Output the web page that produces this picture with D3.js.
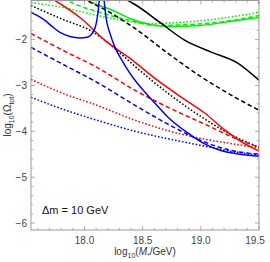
<!DOCTYPE html>
<html><head><meta charset="utf-8">
<script src="https://cdn.jsdelivr.net/npm/d3@7/dist/d3.min.js"></script>
<style>body{margin:0;background:#fff}svg{display:block;font-family:"Liberation Sans",Arial,sans-serif}</style>
</head><body>
<script>
// ---- data (x = log10(M*/GeV), y = log10(Omega_tot)) ----
const blackSolid  = [[18.33,-1.08],[18.374,-1.15],[18.434,-1.237],[18.649,-1.628],[18.864,-2.02],[19.096,-2.28],[19.320,-2.52],[19.5,-2.889]];
const blackDashed = [[17.98,-1.09],[18.022,-1.15],[18.219,-1.411],[18.434,-1.759],[18.718,-2.302],[19.010,-2.824],[19.294,-3.259],[19.5,-3.541]];
const blackDotted = [[17.54,-1.259],[17.815,-1.563],[18.064,-1.824],[18.176,-2.02],[18.279,-2.237],[18.434,-2.585],[18.718,-3.172],[19.010,-3.693],[19.268,-4.085],[19.5,-4.346]];
const redSolid    = [[17.70,-1.08],[17.746,-1.15],[17.961,-1.52],[18.176,-2.02],[18.391,-2.411],[18.606,-2.846],[18.821,-3.237],[19.036,-3.607],[19.208,-3.976],[19.354,-4.237],[19.5,-4.433]];
const redDashed   = [[17.54,-1.867],[17.815,-2.237],[18.107,-2.607],[18.434,-3.107],[18.735,-3.498],[19.036,-3.846],[19.294,-4.15],[19.5,-4.346]];
const redDotted   = [[17.54,-2.867],[17.815,-3.172],[18.107,-3.433],[18.434,-3.759],[18.735,-3.998],[19.036,-4.172],[19.294,-4.28],[19.5,-4.367]];
const blueLeft    = [[17.54,-1.411],[17.592,-1.476],[17.66,-1.585],[17.721,-1.715],[17.789,-1.846],[17.875,-1.933],[17.961,-1.965],[18.03,-1.943],[18.073,-1.846],[18.099,-1.672],[18.116,-1.411],[18.125,-1.193],[18.129,-1.085]];
const blueRight   = [[18.163,-1.085],[18.168,-1.15],[18.176,-1.324],[18.185,-1.52],[18.219,-1.867],[18.262,-2.172],[18.322,-2.454],[18.391,-2.737],[18.434,-2.889],[18.52,-3.15],[18.606,-3.389],[18.718,-3.693],[18.89,-4.041],[19.036,-4.28],[19.165,-4.411],[19.337,-4.498],[19.5,-4.541]];
const blueDashed  = [[17.54,-2.172],[17.815,-2.541],[18.107,-2.933],[18.434,-3.433],[18.735,-3.867],[18.993,-4.193],[19.251,-4.411],[19.5,-4.498]];
const blueDotted  = [[17.54,-3.259],[17.815,-3.52],[18.107,-3.759],[18.434,-3.998],[18.735,-4.172],[18.993,-4.302],[19.251,-4.433],[19.5,-4.52]];
const greenDotted = [[17.54,-1.193],[17.815,-1.302],[18.107,-1.476],[18.391,-1.607],[18.563,-1.65],[18.821,-1.628],[19.165,-1.541],[19.5,-1.411]];
const greenDashed = [[17.82,-1.09],[17.858,-1.15],[18.107,-1.389],[18.391,-1.585],[18.606,-1.693],[18.907,-1.672],[19.208,-1.607],[19.5,-1.476]];
const greenSolid  = [[17.99,-1.09],[18.03,-1.15],[18.245,-1.367],[18.391,-1.541],[18.563,-1.672],[18.735,-1.715],[18.993,-1.693],[19.251,-1.607],[19.5,-1.52]];

const xMajor = [18.0, 18.5, 19.0, 19.5];
const xMajorLabels = ["18.0", "18.5", "19.0", "19.5"];
const yMajor = [-2, -3, -4, -5, -6];
const yMajorLabels = ["\u22122", "\u22123", "\u22124", "\u22125", "\u22126"];
const annotation = "\u0394m = 10 GeV";

const series = [
  {d: greenDotted, c: "#00ee00", s: "dot"},
  {d: greenDashed, c: "#00ee00", s: "dash"},
  {d: greenSolid,  c: "#00ee00", s: "solid"},
  {d: blackSolid,  c: "#000", s: "solid"},
  {d: blackDashed, c: "#000", s: "dash"},
  {d: blackDotted, c: "#000", s: "dot"},
  {d: redDotted,   c: "#ff0000", s: "dot"},
  {d: redDashed,   c: "#ff0000", s: "dash"},
  {d: redSolid,    c: "#ff0000", s: "solid"},
  {d: blueDotted,  c: "#0000ff", s: "dot"},
  {d: blueDashed,  c: "#0000ff", s: "dash"},
  {d: blueLeft,    c: "#0000ff", s: "solid"},
  {d: blueRight,   c: "#0000ff", s: "solid"}
];

// ---- layout ----
const W = 270, H = 262;
const L = 31, R = 259, T = 0.5, B = 230;
const x = d3.scaleLinear().domain([17.54, 19.5]).range([L, R]);
const y = d3.scaleLinear().domain([-6.15, -1.15]).range([B, T]);

const svg = d3.select("body").append("svg").attr("width", W).attr("height", H);
svg.append("defs").append("clipPath").attr("id", "clip")
  .append("rect").attr("x", L).attr("y", T).attr("width", R - L).attr("height", B - T);

const line = d3.line().x(d => x(d[0])).y(d => y(d[1])).curve(d3.curveMonotoneX);
const dash = {solid: null, dash: "4.5,2.8", dot: "1.6,1.9"};
const g = svg.append("g").attr("clip-path", "url(#clip)");
series.forEach(s => {
  g.append("path").attr("d", line(s.d)).attr("fill", "none")
    .attr("stroke", s.c).attr("stroke-width", 1.5)
    .attr("stroke-dasharray", dash[s.s]);
});

// frame
svg.append("rect").attr("x", L).attr("y", T).attr("width", R - L).attr("height", B - T)
  .attr("fill", "none").attr("stroke", "#999").attr("stroke-width", 1);

// ticks
const xMinor = d3.range(17.6, 19.45, 0.1).map(v => +v.toFixed(1)).filter(v => !xMajor.some(m => Math.abs(m - v) < 1e-6));
const yMinor = d3.range(-6.0, -1.15, 0.2).map(v => +v.toFixed(1)).filter(v => !yMajor.some(m => Math.abs(m - v) < 1e-6));
const tk = svg.append("g").attr("stroke", "#999").attr("stroke-width", 0.8);
xMajor.forEach(v => { tk.append("line").attr("x1", x(v)).attr("x2", x(v)).attr("y1", B).attr("y2", B - 4);
                      tk.append("line").attr("x1", x(v)).attr("x2", x(v)).attr("y1", T).attr("y2", T + 4); });
xMinor.forEach(v => { tk.append("line").attr("x1", x(v)).attr("x2", x(v)).attr("y1", B).attr("y2", B - 2.2);
                      tk.append("line").attr("x1", x(v)).attr("x2", x(v)).attr("y1", T).attr("y2", T + 2.2); });
yMajor.forEach(v => { tk.append("line").attr("y1", y(v)).attr("y2", y(v)).attr("x1", L).attr("x2", L + 4);
                      tk.append("line").attr("y1", y(v)).attr("y2", y(v)).attr("x1", R).attr("x2", R - 4); });
yMinor.forEach(v => { tk.append("line").attr("y1", y(v)).attr("y2", y(v)).attr("x1", L).attr("x2", L + 2.2);
                      tk.append("line").attr("y1", y(v)).attr("y2", y(v)).attr("x1", R).attr("x2", R - 2.2); });

// tick labels
const lab = svg.append("g").attr("font-size", 10).attr("fill", "#444");
xMajor.forEach((v, i) => lab.append("text").attr("x", Math.min(x(v), 255)).attr("y", 244)
  .attr("text-anchor", "middle").text(xMajorLabels[i]));
yMajor.forEach((v, i) => lab.append("text").attr("x", 27).attr("y", y(v) + 3.5)
  .attr("text-anchor", "end").text(yMajorLabels[i]));

// axis titles
const xt = svg.append("text").attr("x", 145).attr("y", 255).attr("text-anchor", "middle")
  .attr("font-size", 10).attr("fill", "#333");
xt.append("tspan").text("log");
xt.append("tspan").attr("font-size", 7).attr("dy", 2.5).text("10");
xt.append("tspan").attr("dy", -2.5).text("(");
xt.append("tspan").attr("font-style", "italic").text("M");
xt.append("tspan").attr("font-size", 7).attr("dy", 2.5).text("*");
xt.append("tspan").attr("dy", -2.5).text("/GeV)");

const yt = svg.append("text").attr("transform", "translate(11,115) rotate(-90)")
  .attr("text-anchor", "middle").attr("font-size", 10).attr("fill", "#333");
yt.append("tspan").text("log");
yt.append("tspan").attr("font-size", 7).attr("dy", 2.5).text("10");
yt.append("tspan").attr("dy", -2.5).text("(\u03A9");
yt.append("tspan").attr("font-size", 7).attr("dy", 2.5).text("tot");
yt.append("tspan").attr("dy", -2.5).text(")");

svg.append("text").attr("x", 42).attr("y", 214).attr("font-size", 11).attr("fill", "#111").text(annotation);
</script>
</body></html>
